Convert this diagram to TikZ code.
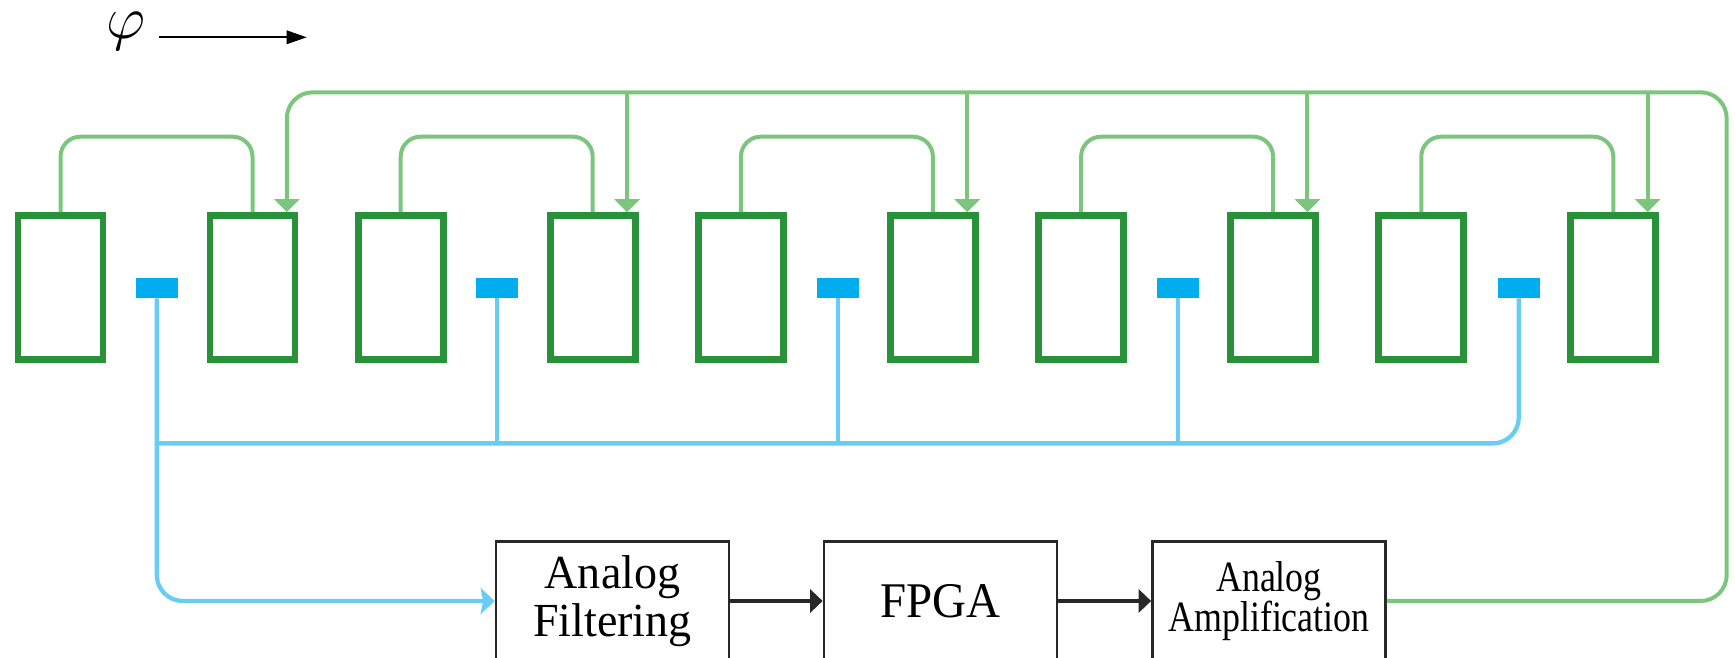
\documentclass[tikz,border=0pt]{standalone}
\usepackage{fontspec}
\setmainfont{Liberation Serif}
\usepackage{graphicx}
\usetikzlibrary{arrows.meta,calc}
\definecolor{elecgreen}{RGB}{40,145,58}
\definecolor{wiregreen}{RGB}{124,197,124}
\definecolor{padblue}{RGB}{0,174,239}
\definecolor{wireblue}{RGB}{104,205,245}
\definecolor{boxgray}{RGB}{40,40,40}
\newcommand\tightlines{\lineskiplimit=-10pt\relax}

\begin{document}
\begin{tikzpicture}
[x=0.1mm,y=-0.1mm,
elec/.style={draw=elecgreen,line width=0.67mm,minimum width=8.5mm,minimum height=14.4mm,inner sep=0},
pad/.style={fill=padblue,minimum width=4.17mm,minimum height=2mm,inner sep=0},
gwire/.style={draw=wiregreen,line width=0.4mm,rounded corners=2mm},
bwire/.style={draw=wireblue,line width=0.43mm,rounded corners=2.6mm},
block/.style={draw=boxgray,line width=0.27mm,minimum width=23.3mm,minimum height=11.95mm,inner sep=0,align=center},
garrow/.style={-{Triangle[length=1.3mm,width=2.5mm]}},
barrow/.style={-{Stealth[length=1.4mm,width=2.6mm,inset=0.25mm]}},
karrow/.style={draw=boxgray,line width=0.33mm,-{Triangle[length=1.25mm,width=2.3mm]}},
]
\useasboundingbox (0,0) rectangle (1735,658);
\clip (0,0) rectangle (1735,658);

\node (phi) at (125.5,39)[anchor=base,inner sep=0]{\fontsize{17}{17}\selectfont$\varphi$};
\coordinate (phiend) at (306.7,37.3);
\draw[line width=0.17mm,-{Triangle[length=2mm,width=1.35mm]}] ([xshift=1.34mm]phi.east |- phiend) -- (phiend);

\foreach \k in {0,...,4}{
  \pgfmathtruncatemacro\a{2*\k+1}
  \pgfmathtruncatemacro\b{2*\k+2}
  \pgfmathtruncatemacro\c{\k+1}
  \node (e\a) at (60.5+340.2*\k,287.5)[elec]{};
  \node (e\b) at (252.5+340.2*\k,287.5)[elec]{};
  \node (p\c) at (156.8+340.5*\k,287.7)[pad]{};
}

\node (filt) at (612.5,601)[block,font={\fontsize{13.5}{13.6}\selectfont}]{\scalebox{0.97}[1]{Analog}\\\scalebox{0.97}[1]{Filtering}};
\node (fpga) at (940.5,601)[block,font={\fontsize{14.2}{15}\selectfont}]{\scalebox{0.94}[1]{FPGA}};
\node (amp) at (1269,601)[block,font={\fontsize{12.3}{11.6}\selectfont\tightlines}]{\scalebox{0.83}[1]{Analog}\\\scalebox{0.83}[1]{Amplification}};

\foreach \a/\b in {1/2,3/4,5/6,7/8,9/10}
  \draw[gwire] (e\a.north) -- ++(0,-75.5) -| (e\b.north);

\foreach \b in {2,4,6,8,10}
  \coordinate (t\b) at ($(e\b.north east)+(-11.5,0)$);
\coordinate (busTR) at (1726.7,92.3);
\draw[gwire,garrow,rounded corners=2.6mm] (amp.east) -| (busTR) -| (t2);
\foreach \b in {4,6,8,10}
  \draw[gwire,garrow] (t\b |- busTR) -- (t\b);

\coordinate (busBL) at ($(p1.south)+(0,145)$);
\draw[bwire] (p5.south) |- (busBL);
\draw[bwire,barrow] (p1.south) |- (filt.west);
\foreach \c in {2,3,4}
  \draw[bwire] (p\c.south) -- (p\c.south |- busBL);

\draw[karrow] (filt.east) -- (fpga.west);
\draw[karrow] (fpga.east) -- (amp.west);

\end{tikzpicture}
\end{document}
